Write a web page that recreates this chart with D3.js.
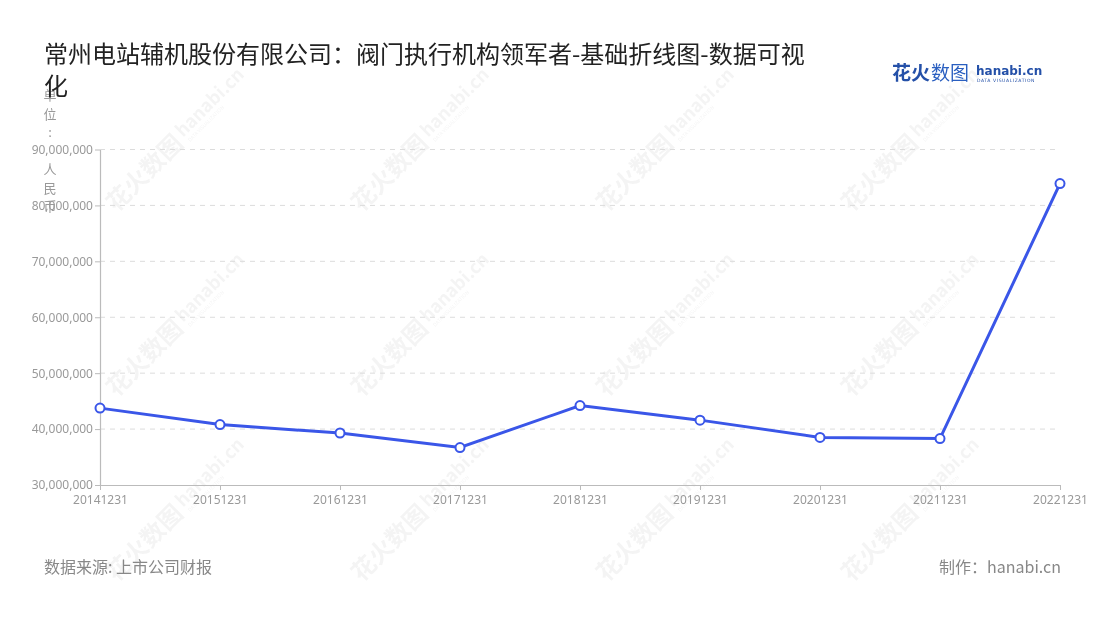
<!DOCTYPE html>
<html>
<head>
  <meta charset="utf-8">
  <title>常州电站辅机股份有限公司：阀门执行机构领军者</title>
  <script src="https://cdn.jsdelivr.net/npm/d3@7/dist/d3.min.js"></script>
  <style>
    body { margin: 0; background: #fff; }
    svg text { font-family: "Noto Sans CJK SC", "Noto Sans", sans-serif; }
  </style>
</head>
<body>
<svg width="1100" height="620"></svg>

<script>
  // 数据
  var dates = ["20141231", "20151231", "20161231", "20171231", "20181231",
               "20191231", "20201231", "20211231", "20221231"];
  var values = [43750000, 40800000, 39300000, 36700000, 44200000,
                41600000, 38500000, 38300000, 83900000];
  var yTicks = [30000000, 40000000, 50000000, 60000000, 70000000, 80000000, 90000000];
  var unitChars = ["单", "位", ":", " ", "人", "民", "币"];

  var svg = d3.select("svg");
  var plotLeft = 100, plotRight = 1060, plotTop = 149.5, plotBottom = 485;

  // 水印
  var wm = svg.append("g").attr("opacity", 0.05);
  [183, 428, 673, 918].forEach(function(cx) {
    [135, 320, 505].forEach(function(cy) {
      var g = wm.append("g").attr("transform", "translate(" + cx + "," + cy + ") rotate(-45)");
      g.append("text").attr("x", -6).attr("y", 8).attr("text-anchor", "end")
        .style("font-size", "24px").style("font-weight", "bold").attr("fill", "#222").text("花火数图");
      g.append("text").attr("x", -2).attr("y", 2)
        .style("font-size", "18px").style("font-weight", "bold").attr("fill", "#222").text("hanabi.cn");
      g.append("text").attr("x", 0).attr("y", 10)
        .style("font-size", "5px").attr("fill", "#222").text("DATA VISUALIZATION");
    });
  });

  var x = d3.scalePoint().domain(dates).range([plotLeft, plotRight]);
  var y = d3.scaleLinear().domain([30000000, 90000000]).range([plotBottom, plotTop]);

  // 网格线
  svg.append("g").selectAll("line").data(yTicks.slice(1)).enter().append("line")
    .attr("x1", plotLeft).attr("x2", plotRight)
    .attr("y1", function(d) { return y(d); }).attr("y2", function(d) { return y(d); })
    .attr("stroke", "#dcdcdc").attr("stroke-dasharray", "5,5");

  // y轴
  var yAxis = svg.append("g").attr("transform", "translate(" + plotLeft + ",0)")
    .call(d3.axisLeft(y).tickValues(yTicks).tickSize(5).tickSizeOuter(0).tickFormat(d3.format(",")));
  yAxis.select(".domain").attr("stroke", "#bbb").attr("stroke-width", 1.2);
  yAxis.selectAll(".tick line").attr("stroke", "#bbb");
  yAxis.selectAll(".tick text").attr("fill", "#999").style("font-size", "12px")
    .style("font-family", "'Noto Sans', sans-serif").attr("x", -7);

  // x轴
  var xAxis = svg.append("g").attr("transform", "translate(0," + plotBottom + ")")
    .call(d3.axisBottom(x).tickSize(5).tickSizeOuter(0));
  xAxis.select(".domain").attr("stroke", "#bbb").attr("stroke-width", 1.2);
  xAxis.selectAll(".tick line").attr("stroke", "#bbb");
  xAxis.selectAll(".tick text").attr("fill", "#999").style("font-size", "12px")
    .style("font-family", "'Noto Sans', sans-serif").attr("y", 10);

  // 单位
  svg.append("g").selectAll("text").data(unitChars).enter().append("text")
    .attr("x", 50).attr("y", function(d, i) { return 100 + i * 18.5; })
    .attr("text-anchor", "middle").attr("fill", "#999").style("font-size", "13px")
    .text(function(d) { return d; });

  // 折线
  var line = d3.line()
    .x(function(d, i) { return x(dates[i]); })
    .y(function(d) { return y(d); });
  svg.append("path").datum(values)
    .attr("d", line).attr("fill", "none")
    .attr("stroke", "#3a56e8").attr("stroke-width", 3);

  svg.append("g").selectAll("circle").data(values).enter().append("circle")
    .attr("cx", function(d, i) { return x(dates[i]); })
    .attr("cy", function(d) { return y(d); })
    .attr("r", 4.5).attr("fill", "#fff")
    .attr("stroke", "#3a56e8").attr("stroke-width", 2);

  // 标题
  svg.append("text").attr("x", 44).attr("y", 63)
    .attr("fill", "#222").style("font-size", "24px")
    .text("常州电站辅机股份有限公司：阀门执行机构领军者-基础折线图-数据可视");
  svg.append("text").attr("x", 44).attr("y", 95)
    .attr("fill", "#222").style("font-size", "24px").text("化");

  // logo
  svg.append("text").attr("x", 892).attr("y", 80)
    .attr("fill", "#2450a8").style("font-size", "19px").style("font-weight", "bold").text("花火");
  svg.append("text").attr("x", 931).attr("y", 80)
    .attr("fill", "#2a5fc0").style("font-size", "19px").text("数图");
  svg.append("text").attr("x", 976).attr("y", 75)
    .attr("fill", "#2450a8").style("font-size", "12px").style("font-weight", "bold")
    .style("font-family", "'DejaVu Sans', sans-serif").text("hanabi.cn");
  svg.append("text").attr("x", 977).attr("y", 82)
    .attr("fill", "#2450a8").style("font-size", "4.5px").style("letter-spacing", "0.6px")
    .style("font-family", "'DejaVu Sans', sans-serif").text("DATA VISUALIZATION");

  // 脚注
  svg.append("text").attr("x", 44).attr("y", 573)
    .attr("fill", "#888").style("font-size", "16px").text("数据来源: 上市公司财报");
  svg.append("text").attr("x", 1061).attr("y", 573).attr("text-anchor", "end")
    .attr("fill", "#888").style("font-size", "16px").text("制作：hanabi.cn");
</script>
</body>
</html>
